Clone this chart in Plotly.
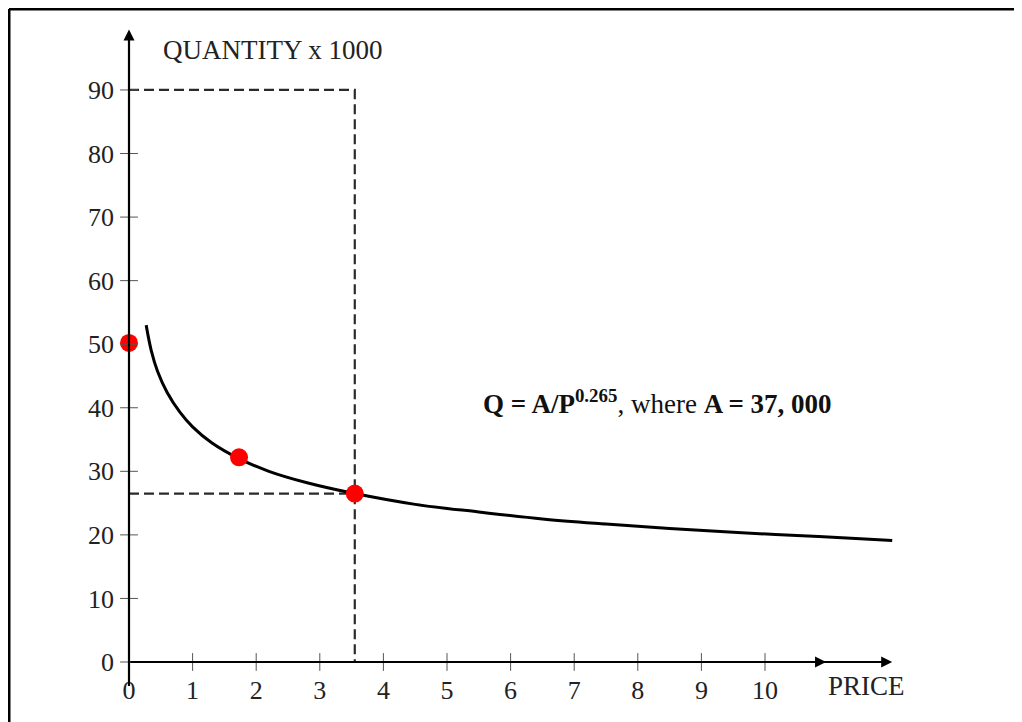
import plotly.graph_objects as go

# ---- data ----
price_curve = [0.27, 0.35, 0.45, 0.6, 0.8, 1.0, 1.3, 1.73, 2.2, 2.8, 3.55,
               4.5, 5.5, 6.5, 7.5, 8.5, 9.5, 10.5, 11.5, 12.0]
qty_curve = [53.0, 49.0, 45.7, 42.4, 39.3, 37.0, 34.5, 32.0, 30.0, 28.2, 26.5,
             24.8, 23.6, 22.5, 21.7, 21.0, 20.4, 19.9, 19.4, 19.1]

point_price = [0.0, 1.73, 3.55]
point_qty = [50.2, 32.2, 26.5]

x_ticks = [0, 1, 2, 3, 4, 5, 6, 7, 8, 9, 10]
x_tick_labels = ["0", "1", "2", "3", "4", "5", "6", "7", "8", "9", "10"]
y_ticks = [0, 10, 20, 30, 40, 50, 60, 70, 80, 90]
y_tick_labels = ["0", "10", "20", "30", "40", "50", "60", "70", "80", "90"]

guide_price = 3.55
guide_qty_top = 90
guide_qty_low = 26.5

x_axis_end = 12.0
x_axis_mid_arrow = 10.96
y_axis_end = 99.5
y_axis_start = -4.0

x_label = "PRICE"
y_label = "QUANTITY x 1000"
equation = "<b>Q = A/P<sup>0.265</sup></b>, where <b>A = 37, 000</b>"

# ---- geometry (page body has an 8px margin, so shift everything) ----
OFF = 8
W, H = 1022 - OFF, 722 - OFF
X0PX, XSCALE = 129.0 - OFF, 63.6
Y0PX, YSCALE = 662.0 - OFF, 6.356
xr = [-X0PX / XSCALE, (W - X0PX) / XSCALE]
yr = [-(H - Y0PX) / YSCALE, Y0PX / YSCALE]


def px(x):
    return (x - OFF) / W


def py(y):
    return 1 - (y - OFF) / H


FONT = "Liberation Serif"
TXT = "#222222"
fig = go.Figure()

# dashed guides
dash_style = dict(color="#2a2a2a", width=2.2, dash="10px,5px")
fig.add_trace(go.Scatter(x=[0, guide_price, guide_price], y=[guide_qty_top, guide_qty_top, 0],
                         mode="lines", line=dash_style, hoverinfo="skip", showlegend=False))
fig.add_trace(go.Scatter(x=[0, guide_price], y=[guide_qty_low, guide_qty_low],
                         mode="lines", line=dash_style, hoverinfo="skip", showlegend=False))

# demand curve
fig.add_trace(go.Scatter(x=price_curve, y=qty_curve, mode="lines",
                         line=dict(color="black", width=3, shape="spline"),
                         showlegend=False))

# points
fig.add_trace(go.Scatter(x=point_price, y=point_qty, mode="markers",
                         marker=dict(color="#ff0000", size=18),
                         showlegend=False))

shapes = []
for v in y_ticks:
    shapes.append(dict(type="line", xref="x", yref="y", x0=-0.14, x1=0.14, y0=v, y1=v,
                       line=dict(color="#555555", width=1)))
for v in x_ticks[1:]:
    shapes.append(dict(type="line", xref="x", yref="y", x0=v, x1=v, y0=-1.4, y1=1.4,
                       line=dict(color="#555555", width=1)))
# frame (top and left only)
shapes.append(dict(type="line", xref="paper", yref="paper", x0=px(9), x1=1.0,
                   y0=py(9), y1=py(9), line=dict(color="black", width=3)))
shapes.append(dict(type="line", xref="paper", yref="paper", x0=px(9), x1=px(9),
                   y0=0, y1=py(9), line=dict(color="black", width=3)))

annotations = []
for (hx, hy, tx, ty) in [(0, y_axis_end, 0, y_axis_start),
                         (x_axis_end, 0, 0, 0),
                         (x_axis_mid_arrow, 0, 0, 0)]:
    annotations.append(dict(x=hx, y=hy, ax=tx, ay=ty, xref="x", yref="y",
                            axref="x", ayref="y", showarrow=True, arrowhead=2, arrowsize=1,
                            arrowwidth=2.2, arrowcolor="black", text=""))
annotations.append(dict(x=px(161), y=py(50), xref="paper", yref="paper", text=y_label,
                        showarrow=False, xanchor="left", yanchor="middle",
                        font=dict(family=FONT, size=27, color=TXT)))
annotations.append(dict(x=px(826), y=py(686), xref="paper", yref="paper", text=x_label,
                        showarrow=False, xanchor="left", yanchor="middle",
                        font=dict(family=FONT, size=27, color=TXT)))
annotations.append(dict(x=px(657), y=py(402), xref="paper", yref="paper", text=equation,
                        showarrow=False, xanchor="center", yanchor="middle",
                        font=dict(family=FONT, size=27, color="#111111")))

fig.update_layout(
    width=W, height=H,
    margin=dict(l=0, r=0, t=0, b=0),
    paper_bgcolor="white", plot_bgcolor="white",
    showlegend=False,
    shapes=shapes, annotations=annotations,
    xaxis=dict(range=xr, showgrid=False, zeroline=False, showline=False,
               tickvals=x_ticks, ticktext=x_tick_labels, ticks="",
               anchor="free", position=(H - Y0PX) / H, ticklabelstandoff=10,
               tickfont=dict(family=FONT, size=26, color=TXT)),
    yaxis=dict(range=yr, showgrid=False, zeroline=False, showline=False,
               tickvals=y_ticks, ticktext=y_tick_labels, ticks="",
               anchor="free", position=X0PX / W, ticklabelstandoff=15,
               tickfont=dict(family=FONT, size=26, color=TXT)),
)

fig.write_html("out.html")
